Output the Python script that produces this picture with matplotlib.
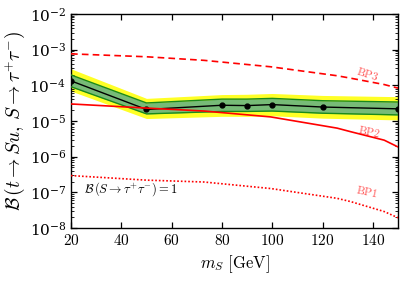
import numpy as np
import matplotlib
matplotlib.use("Agg")
import matplotlib.pyplot as plt
from matplotlib.ticker import FixedLocator, FuncFormatter, LogLocator, NullFormatter

plt.rcParams['mathtext.fontset'] = 'cm'
plt.rcParams['font.family'] = 'serif'
plt.rcParams['font.serif'] = ['DejaVu Serif']

# Observed limit and bands
mS = [20, 50, 80, 90, 100, 120, 150]
obs = [1.33e-4, 2.1e-5, 2.76e-5, 2.7e-5, 2.88e-5, 2.46e-5, 2.19e-5]
green_hi = [1.95e-4, 3.2e-5, 4.1e-5, 4.1e-5, 4.3e-5, 3.7e-5, 3.4e-5]
green_lo = [9.1e-5, 1.58e-5, 1.85e-5, 1.85e-5, 1.9e-5, 1.65e-5, 1.48e-5]
yellow_hi = [2.9e-4, 4.3e-5, 5.5e-5, 5.6e-5, 5.9e-5, 5.2e-5, 4.8e-5]
yellow_lo = [6.9e-5, 1.17e-5, 1.35e-5, 1.35e-5, 1.4e-5, 1.2e-5, 1.07e-5]

# Benchmark curves
bp_m = [20, 50, 72.9, 99.4, 125.8, 131.2, 144.5, 150]
bp3 = [7.6e-4, 6.3e-4, 5.0e-4, 3.3e-4, 1.85e-4, 1.58e-4, 1.05e-4, 8.3e-5]
bp2 = [3.0e-5, 2.3e-5, 1.9e-5, 1.3e-5, 6.3e-6, 5.0e-6, 2.9e-6, 1.87e-6]
bp1 = [2.95e-7, 2.2e-7, 1.95e-7, 1.28e-7, 6.8e-8, 5.5e-8, 2.9e-8, 1.94e-8]

xticks = [20, 40, 60, 80, 100, 120, 140]

fig = plt.figure(figsize=(4.07, 2.84), dpi=100)
ax = fig.add_axes([0.1745, 0.197, 0.8035, 0.754])

ax.fill_between(mS, yellow_lo, yellow_hi, color='#ffff00', alpha=0.85, lw=0, zorder=1)
ax.fill_between(mS, green_lo, green_hi, color='#77bb77', lw=0, zorder=2)
ax.plot(mS, green_hi, color='#1a8a1a', lw=1.0, zorder=3)
ax.plot(mS, green_lo, color='#1a8a1a', lw=1.0, zorder=3)
ax.plot(mS, obs, color='black', lw=1.0, marker='o', ms=3.5, zorder=4)

ax.plot(bp_m, bp3, color='red', lw=1.2, ls=(0, (4, 2.5)), zorder=5)
ax.plot(bp_m, bp2, color='red', lw=1.2, ls='-', zorder=5)
ax.plot(bp_m, bp1, color='red', lw=1.2, ls=(0, (1, 1.2)), zorder=5)

ax.text(138, 2.15e-4, r'$\mathrm{BP3}$', color='#ff5555', fontsize=8, rotation=-18,
        ha='center', va='center')
ax.text(138.5, 5.2e-6, r'$\mathrm{BP2}$', color='#ff5555', fontsize=8, rotation=-12,
        ha='center', va='center')
ax.text(137.5, 1.05e-7, r'$\mathrm{BP1}$', color='#ff5555', fontsize=8, rotation=-12,
        ha='center', va='center')
ax.text(25, 1.2e-7, r'$\mathcal{B}\,(S\to\tau^{+}\tau^{-})=1$', fontsize=9,
        ha='left', va='center')

ax.set_xlim(20, 150)
ax.set_yscale('log')
ax.set_ylim(1e-8, 1e-2)
ax.xaxis.set_major_locator(FixedLocator(xticks))
ax.xaxis.set_major_formatter(FuncFormatter(lambda v, p: r'$%d$' % v))
ax.yaxis.set_major_locator(LogLocator(base=10, numticks=10))
ax.yaxis.set_minor_locator(LogLocator(base=10, subs=np.arange(2, 10), numticks=20))
ax.yaxis.set_minor_formatter(NullFormatter())

ax.tick_params(which='both', direction='in', top=True, right=True, labelsize=11)
ax.tick_params(which='major', length=4, width=0.9)
ax.tick_params(which='minor', length=2, width=0.6)
for s in ax.spines.values():
    s.set_linewidth(1.0)

ax.set_xlabel(r'$m_S\ [\mathrm{GeV}]$', fontsize=12)
ax.set_ylabel(r'$\mathcal{B}\,(t\to Su,\,S\to\tau^{+}\tau^{-})$', fontsize=14, labelpad=2)

fig.savefig('out.png', dpi=100)
